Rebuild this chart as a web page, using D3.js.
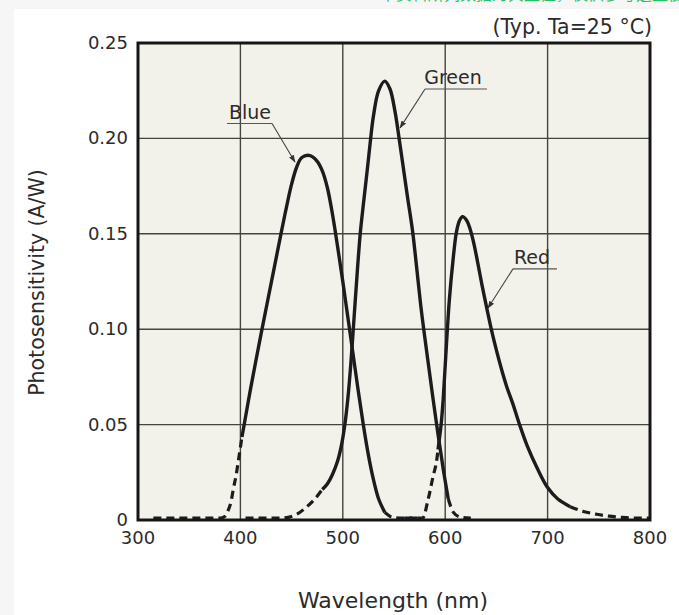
<!DOCTYPE html>
<meta charset="utf-8">
<script src="https://cdn.jsdelivr.net/npm/d3@7/dist/d3.min.js"></script>
<style>
body {
  margin: 0;
  background: #f6f6f6;
}
svg {
  display: block;
}
text {
  font-family: "DejaVu Sans", sans-serif;
  fill: #2b2b2b;
}
.tick-label {
  font-size: 18px;
}
.axis-title {
  font-size: 20.5px;
}
.curve-label {
  font-size: 19px;
}
</style>
<body>
<div class="chart"></div>
<script>

// chart data
var xTicks = [300, 400, 500, 600, 700, 800];
var yTicks = [0, 0.05, 0.10, 0.15, 0.20, 0.25];
var yTickLabels = ["0", "0.05", "0.10", "0.15", "0.20", "0.25"];

var blueWl  = [315, 330, 350, 370, 380, 385, 388, 391, 393, 396, 398, 401.5, 406, 410, 420, 430, 440, 445, 450, 455, 460, 468, 475, 480, 485, 490, 495, 500, 505, 510, 515, 520, 525, 530, 535, 541, 548, 555, 565, 575];
var blueVal = [0.001, 0.001, 0.001, 0.001, 0.001, 0.002, 0.005, 0.010, 0.016, 0.024, 0.031, 0.0435, 0.057, 0.069, 0.097, 0.124, 0.151, 0.164, 0.176, 0.185, 0.190, 0.191, 0.188, 0.183, 0.174, 0.160, 0.143, 0.125, 0.106, 0.087, 0.068, 0.050, 0.034, 0.021, 0.011, 0.004, 0.0015, 0.001, 0.001, 0.001];
var blueSolid = [401.5, 541];

var greenWl  = [405, 420, 440, 455, 465, 471, 480, 485, 490, 495, 499, 502, 505, 508, 511, 514, 517, 520, 524, 527, 530, 535, 541, 546, 551, 555, 559, 563, 568, 572, 576, 580, 584, 588, 593, 598, 603, 608, 615, 625];
var greenVal = [0.001, 0.001, 0.001, 0.003, 0.007, 0.010, 0.016, 0.019, 0.024, 0.031, 0.040, 0.050, 0.064, 0.083, 0.106, 0.129, 0.150, 0.165, 0.184, 0.199, 0.212, 0.225, 0.230, 0.226, 0.214, 0.200, 0.185, 0.170, 0.152, 0.133, 0.113, 0.096, 0.080, 0.064, 0.045, 0.027, 0.011, 0.004, 0.0015, 0.001];
var greenSolid = [480, 603];

var redWl  = [560, 570, 578, 583, 588, 592, 593, 596, 598, 601, 604, 607.6, 611, 614, 617, 621, 624, 627.5, 631, 636, 641, 645, 650, 655, 660, 666, 672, 680, 690, 700, 710, 722, 735, 748, 760, 770, 785, 800];
var redVal = [0.001, 0.001, 0.001, 0.010, 0.0225, 0.0325, 0.037, 0.050, 0.063, 0.090, 0.115, 0.136, 0.151, 0.157, 0.159, 0.157, 0.153, 0.146, 0.137, 0.123, 0.110, 0.100, 0.089, 0.079, 0.070, 0.061, 0.051, 0.039, 0.027, 0.017, 0.011, 0.007, 0.0045, 0.003, 0.002, 0.0015, 0.001, 0.001];
var redSolid = [593, 722];

// curve labels: text position, underline span and arrow tip, in data units
var labelNames = ["Blue", "Green", "Red"];
var labelText  = [[409.4, 0.2102], [607.6, 0.2285], [684.8, 0.1342]];
var labelLine  = [[386.9, 430.9, 0.2078], [580.3, 640.8, 0.2259], [666.2, 709.2, 0.1316]];
var labelTip   = [[453.3, 0.1876], [555.9, 0.2055], [641.8, 0.1111]];

// sizes
var W = 679, H = 615,
    margin = {top: 43, left: 138},
    width = 512,
    height = 477;

var svg = d3.select(".chart").append("svg")
    .attr("width", W)
    .attr("height", H);

// white page panel and the cut off green line at the top
svg.append("rect")
    .attr("x", 14).attr("y", 9)
    .attr("width", W - 14).attr("height", H - 9)
    .attr("fill", "#fff");

svg.append("text")
    .attr("x", 380).attr("y", -0.5)
    .style("font-family", "'Noto Sans CJK SC'")
    .style("font-size", "16px")
    .style("fill", "#27c06a")
    .text("本资料所列数据为典型值，仅供参考选型使用");

var g = svg.append("g")
    .attr("transform", "translate(" + margin.left + "," + margin.top + ")");

var x = d3.scaleLinear().domain([300, 800]).range([0, width]);
var y = d3.scaleLinear().domain([0, 0.25]).range([height, 0]);

// plot background
g.append("rect")
    .attr("width", width)
    .attr("height", height)
    .attr("fill", "#f2f1ea");

// grid
g.selectAll(".vgrid")
    .data(xTicks.slice(1, -1))
    .enter().append("line")
    .attr("x1", function(d) { return x(d); })
    .attr("x2", function(d) { return x(d); })
    .attr("y1", 0).attr("y2", height)
    .attr("stroke", "#45453f")
    .attr("stroke-width", 1.4);

g.selectAll(".hgrid")
    .data(yTicks.slice(1, -1))
    .enter().append("line")
    .attr("y1", function(d) { return y(d); })
    .attr("y2", function(d) { return y(d); })
    .attr("x1", 0).attr("x2", width)
    .attr("stroke", "#45453f")
    .attr("stroke-width", 1.4);

// curves: dashed tails stay monotone, solid parts get a smoother spline
var dashLine = d3.line()
    .x(function(d) { return x(d[0]); })
    .y(function(d) { return y(d[1]); })
    .curve(d3.curveMonotoneX);

var solidLine = d3.line()
    .x(function(d) { return x(d[0]); })
    .y(function(d) { return y(d[1]); })
    .curve(d3.curveCatmullRom.alpha(0.5));

function drawSeries(wl, val, solid) {
  var pts = wl.map(function(w, i) { return [w, val[i]]; });
  var left = pts.filter(function(p) { return p[0] <= solid[0]; });
  var mid = pts.filter(function(p) { return p[0] >= solid[0] && p[0] <= solid[1]; });
  var right = pts.filter(function(p) { return p[0] >= solid[1]; });
  [left, right].forEach(function(seg) {
    if (seg.length < 2) return;
    g.append("path")
        .attr("d", dashLine(seg))
        .attr("fill", "none")
        .attr("stroke", "#1c1c1c")
        .attr("stroke-width", 3.2)
        .attr("stroke-dasharray", "8,5");
  });
  g.append("path")
      .attr("d", solidLine(mid))
      .attr("fill", "none")
      .attr("stroke", "#1c1c1c")
      .attr("stroke-width", 3.4)
      .attr("stroke-linejoin", "round");
}

drawSeries(blueWl, blueVal, blueSolid);
drawSeries(greenWl, greenVal, greenSolid);
drawSeries(redWl, redVal, redSolid);

// frame
g.append("rect")
    .attr("width", width)
    .attr("height", height)
    .attr("fill", "none")
    .attr("stroke", "#161616")
    .attr("stroke-width", 3);

// tick labels
g.selectAll(".xlab")
    .data(xTicks)
    .enter().append("text")
    .attr("class", "tick-label")
    .attr("x", function(d) { return x(d); })
    .attr("y", height + 24)
    .attr("text-anchor", "middle")
    .text(function(d) { return d; });

g.selectAll(".ylab")
    .data(yTicks)
    .enter().append("text")
    .attr("class", "tick-label")
    .attr("x", -10)
    .attr("y", function(d) { return y(d) + 6; })
    .attr("text-anchor", "end")
    .text(function(d, i) { return yTickLabels[i]; });

// axis titles
g.append("text")
    .attr("class", "axis-title")
    .style("font-size", "22px")
    .attr("x", width / 2 - 1)
    .attr("y", height + 88)
    .attr("text-anchor", "middle")
    .text("Wavelength (nm)");

g.append("text")
    .attr("class", "axis-title")
    .attr("transform", "translate(-94," + (height / 2 + 1) + ") rotate(-90)")
    .attr("text-anchor", "middle")
    .text("Photosensitivity (A/W)");

g.append("text")
    .attr("class", "axis-title")
    .attr("x", width + 2)
    .attr("y", -9)
    .attr("text-anchor", "end")
    .text("(Typ. Ta=25 °C)");

// curve labels with leader lines
svg.append("defs").append("marker")
    .attr("id", "tip")
    .attr("viewBox", "0 0 10 10")
    .attr("refX", 9).attr("refY", 5)
    .attr("markerWidth", 7).attr("markerHeight", 7)
    .attr("orient", "auto")
    .append("path")
    .attr("d", "M0,1.5L10,5L0,8.5Z")
    .attr("fill", "#333");

labelNames.forEach(function(name, i) {
  g.append("text")
      .attr("class", "curve-label")
      .attr("x", x(labelText[i][0]))
      .attr("y", y(labelText[i][1]))
      .attr("text-anchor", "middle")
      .text(name);

  var l = labelLine[i];
  // leader starts from the underline end nearest the curve
  var start = (labelTip[i][0] > l[1]) ? l[1] : l[0];
  g.append("path")
      .attr("d", "M" + x(l[0]) + "," + y(l[2]) + "L" + x(l[1]) + "," + y(l[2]))
      .attr("stroke", "#555")
      .attr("stroke-width", 1.2)
      .attr("fill", "none");
  g.append("path")
      .attr("d", "M" + x(start) + "," + y(l[2]) + "L" + x(labelTip[i][0]) + "," + y(labelTip[i][1]))
      .attr("stroke", "#444")
      .attr("stroke-width", 1.1)
      .attr("fill", "none")
      .attr("marker-end", "url(#tip)");
});

</script>
</body>
